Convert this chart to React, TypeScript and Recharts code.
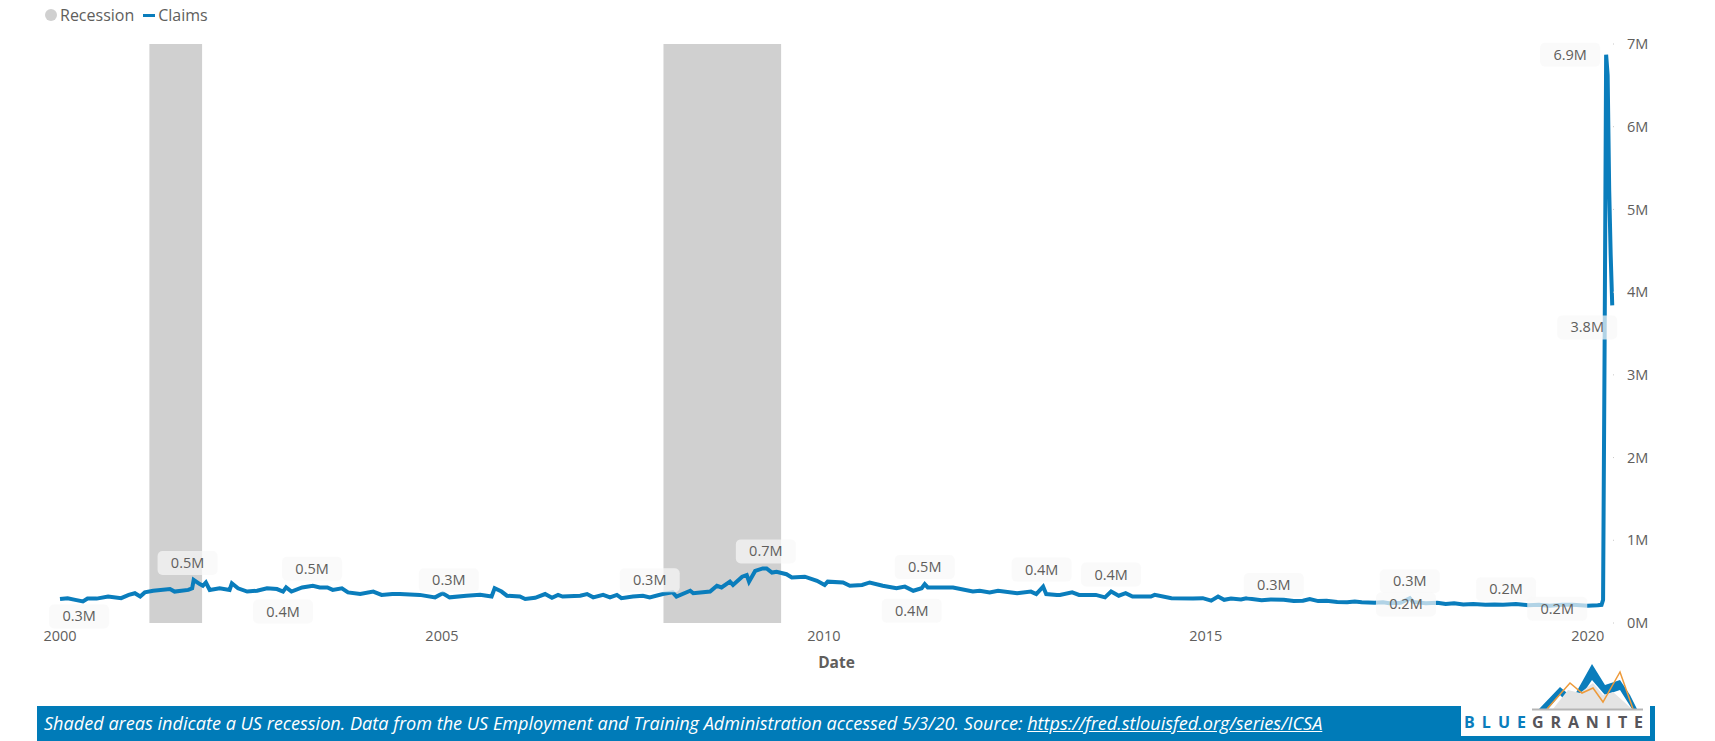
import {
  ComposedChart,
  Line,
  XAxis,
  YAxis,
  Legend,
  ReferenceArea,
  ReferenceDot,
} from "recharts";

const years = [
  2000.0, 2000.1, 2000.2, 2000.3, 2000.36, 2000.48, 2000.63, 2000.8, 2000.9, 2000.98,
  2001.05, 2001.11, 2001.22, 2001.44, 2001.5, 2001.68, 2001.73, 2001.75, 2001.83, 2001.87,
  2001.91, 2001.96, 2002.09, 2002.22, 2002.25, 2002.33, 2002.45, 2002.58, 2002.71, 2002.84,
  2002.92, 2002.96, 2003.03, 2003.17, 2003.31, 2003.4, 2003.5, 2003.57, 2003.69, 2003.77,
  2003.93, 2004.1, 2004.21, 2004.35, 2004.45, 2004.71, 2004.91, 2005.01, 2005.1, 2005.32,
  2005.5, 2005.65, 2005.69, 2005.78, 2005.85, 2006.02, 2006.09, 2006.22, 2006.35, 2006.44,
  2006.52, 2006.58, 2006.81, 2006.9, 2006.98, 2007.11, 2007.2, 2007.29, 2007.35, 2007.5,
  2007.63, 2007.72, 2007.89, 2008.02, 2008.07, 2008.25, 2008.29, 2008.51, 2008.6, 2008.66,
  2008.77, 2008.81, 2008.93, 2008.99, 2009.02, 2009.1, 2009.2, 2009.25, 2009.32, 2009.38,
  2009.51, 2009.58, 2009.75, 2009.91, 2010.01, 2010.05, 2010.25, 2010.34, 2010.5, 2010.6,
  2010.77, 2010.95, 2011.06, 2011.17, 2011.28, 2011.32, 2011.36, 2011.69, 2011.95, 2012.04,
  2012.17, 2012.28, 2012.53, 2012.71, 2012.78, 2012.87, 2012.91, 2013.05, 2013.09, 2013.25,
  2013.34, 2013.56, 2013.68, 2013.76, 2013.86, 2013.95, 2014.04, 2014.28, 2014.33, 2014.55,
  2014.83, 2014.96, 2015.07, 2015.16, 2015.24, 2015.33, 2015.46, 2015.53,
  2015.73, 2015.85, 2016.02, 2016.15, 2016.27, 2016.36, 2016.47, 2016.58, 2016.72, 2016.85,
  2016.95, 2017.04, 2017.21, 2017.32, 2017.4, 2017.55, 2017.67, 2017.71, 2017.88, 2018.03,
  2018.14, 2018.25, 2018.37, 2018.5, 2018.66, 2018.78, 2018.89, 2019.06, 2019.22, 2019.36,
  2019.5, 2019.66, 2019.8, 2020.0, 2020.13, 2020.18,
  2020.2, 2020.22, 2020.24, 2020.26, 2020.28, 2020.3, 2020.32,
];

const claims = [
  0.29, 0.3, 0.28, 0.26, 0.295, 0.295, 0.32, 0.3, 0.34, 0.36,
  0.32, 0.37, 0.39, 0.41, 0.38, 0.4, 0.42, 0.52, 0.47, 0.45,
  0.49, 0.4, 0.42, 0.4, 0.48, 0.42, 0.38, 0.39, 0.42, 0.41,
  0.38, 0.43, 0.38, 0.43, 0.45, 0.43, 0.43, 0.4, 0.42, 0.37,
  0.35, 0.38, 0.34, 0.35, 0.35, 0.34, 0.31, 0.36, 0.31, 0.33,
  0.34, 0.32, 0.42, 0.38, 0.33, 0.32, 0.29, 0.305, 0.35, 0.305,
  0.34, 0.32, 0.33, 0.35, 0.31, 0.34, 0.31, 0.34, 0.3, 0.32,
  0.33, 0.31, 0.35, 0.37, 0.32, 0.39, 0.36, 0.38, 0.45, 0.43,
  0.5, 0.46, 0.56, 0.58, 0.5, 0.63, 0.66, 0.66, 0.61, 0.62,
  0.59, 0.55, 0.56, 0.51, 0.46, 0.5, 0.49, 0.45, 0.46, 0.49,
  0.45, 0.42, 0.44, 0.39, 0.42, 0.47, 0.43, 0.43, 0.38, 0.39,
  0.37, 0.39, 0.36, 0.38, 0.35, 0.44, 0.35, 0.34, 0.34, 0.37,
  0.34, 0.34, 0.31, 0.38, 0.33, 0.36, 0.32, 0.32, 0.34, 0.3,
  0.295, 0.3, 0.27, 0.32, 0.28, 0.295, 0.285, 0.3,
  0.275, 0.285, 0.28, 0.265, 0.27, 0.29, 0.265, 0.27, 0.255, 0.25,
  0.26, 0.25, 0.245, 0.25, 0.24, 0.245, 0.3, 0.255, 0.24, 0.245,
  0.23, 0.24, 0.225, 0.23, 0.22, 0.225, 0.22, 0.23, 0.215, 0.22,
  0.21, 0.22, 0.22, 0.21, 0.215, 0.22,
  0.28, 3.31, 6.87, 6.62, 5.24, 4.44, 3.84,
];

const recessionStarts = [2001.17, 2007.9];
const recessionEnds = [2001.86, 2009.44];

const xTicks = [2000, 2005, 2010, 2015, 2020];
const yTicks = [0, 1, 2, 3, 4, 5, 6, 7];

const labelYears = [
  2000.25, 2001.67, 2002.92, 2003.3, 2005.09, 2007.72, 2009.24, 2011.32, 2011.15,
  2012.85, 2013.76, 2015.89, 2017.67, 2017.62, 2018.93, 2019.6, 2020.32, 2020.24,
];
const labelValues = [
  0.26, 0.52, 0.38, 0.45, 0.31, 0.31, 0.66, 0.47, 0.39,
  0.44, 0.38, 0.29, 0.3, 0.26, 0.24, 0.21, 3.84, 6.87,
];
const labelTexts = [
  "0.3M", "0.5M", "0.4M", "0.5M", "0.3M", "0.3M", "0.7M", "0.5M", "0.4M",
  "0.4M", "0.4M", "0.3M", "0.3M", "0.2M", "0.2M", "0.2M", "3.8M", "6.9M",
];
const labelPlaces = [
  "close", "above", "below", "above", "above", "above", "above", "above", "below",
  "above", "above", "low", "above", "near", "low", "near", "lowerLeft", "left",
];

const offsets = {
  above: [0, -17],
  low: [0, -14],
  below: [0, 20],
  close: [0, 15],
  near: [0, 3],
  left: [-36, 0],
  lowerLeft: [-25, 22],
};

const FONT = "'Open Sans', sans-serif";
const TEXT = "#605e5c";
const BLUE = "#0a7dbc";

const data = years.map((year, i) => ({ year, claims: claims[i] }));

const DataLabel = ({ cx, cy, text, place }: any) => {
  const [dx, dy] = offsets[place];
  const x = cx + dx;
  const y = cy + dy;
  return (
    <g>
      <rect x={x - 30} y={y - 12} width={60} height={24} rx={5} fill="#f8f8f8" fillOpacity={0.7} />
      <text x={x} y={y + 5} textAnchor="middle" fontFamily={FONT} fontSize={14.5} fill={TEXT}>
        {text}
      </text>
    </g>
  );
};

const ChartLegend = () => (
  <div style={{ display: "flex", alignItems: "center", fontFamily: FONT, fontSize: 16, color: TEXT }}>
    <span style={{ width: 12, height: 12, borderRadius: 6, background: "#d0d0d0", marginRight: 3 }} />
    <span style={{ marginRight: 9 }}>Recession</span>
    <span style={{ width: 12, height: 3, background: BLUE, marginRight: 3 }} />
    <span>Claims</span>
  </div>
);

const Logo = () => (
  <svg width={194} height={79} style={{ position: "absolute", left: 1461, top: 662 }} viewBox="1461 662 194 79">
    <rect x={1461} y={706} width={189} height={30} fill="#fff" />
    <polygon points="1539,709 1560,687 1573,698 1592,664 1605,685 1620,680 1630,695 1637,709" fill={BLUE} />
    <polygon points="1548,709 1560,695 1573,708 1592,680 1605,695 1620,690 1632,709" fill="#fff" />
    <polygon points="1553,709 1568,690 1580,693 1593,683 1603,695 1613,692 1632,709" fill="#e4e4e4" />
    <polyline points="1547,709 1570,683 1582,693 1593,688 1603,702 1620,672 1633,709" fill="none" stroke="#ee9a3a" strokeWidth={1.5} />
    <line x1={1532} y1={709.5} x2={1643} y2={709.5} stroke="#b5b5b5" strokeWidth={2} />
    <text x={1464} y={728} textLength={62} fontFamily={FONT} fontWeight={700} fontSize={16} fill={BLUE}>BLUE</text>
    <text x={1532} y={728} textLength={111} fontFamily={FONT} fontWeight={700} fontSize={16} fill="#57555a">GRANITE</text>
  </svg>
);

export default function App() {
  return (
    <div style={{ position: "absolute", left: 0, top: 0, width: 1715, height: 741, overflow: "hidden", background: "#fff" }}>
      <ComposedChart
        width={1715}
        height={700}
        data={data}
        margin={{ top: 22, right: 62, bottom: 47, left: 60 }}
      >
        <Legend
          content={<ChartLegend />}
          height={0}
          verticalAlign="top"
          align="left"
          wrapperStyle={{ left: 45, top: 4 }}
        />
        {recessionStarts.map((start, i) => (
          <ReferenceArea
            key={start}
            x1={start}
            x2={recessionEnds[i]}
            y1={0}
            y2={7}
            fill="#d0d0d0"
            fillOpacity={1}
            stroke="none"
          />
        ))}
        <XAxis
          type="number"
          dataKey="year"
          domain={[2000, 2020.33]}
          ticks={xTicks}
          axisLine={false}
          tickLine={false}
          height={30}
          tick={{ fontFamily: FONT, fontSize: 14.5, fill: TEXT }}
          label={{
            value: "Date",
            position: "insideBottom",
            offset: -15,
            fontFamily: FONT,
            fontSize: 15.5,
            fontWeight: 700,
            fill: TEXT,
          }}
        />
        <YAxis
          orientation="right"
          domain={[0, 7]}
          ticks={yTicks}
          tickFormatter={(v) => `${v}M`}
          axisLine={false}
          tickLine={{ stroke: "#c8c8c8" }}
          tickSize={1}
          width={40}
          tickMargin={13}
          tick={{ fontFamily: FONT, fontSize: 14.5, fill: TEXT }}
        />
        <Line
          dataKey="claims"
          stroke={BLUE}
          strokeWidth={4}
          dot={false}
          isAnimationActive={false}
          legendType="none"
        />
        {labelTexts.map((text, i) => (
          <ReferenceDot
            key={i}
            x={labelYears[i]}
            y={labelValues[i]}
            isFront
            ifOverflow="visible"
            shape={(props: any) => <DataLabel {...props} text={text} place={labelPlaces[i]} />}
          />
        ))}
      </ComposedChart>
      <div
        style={{
          position: "absolute",
          left: 37,
          top: 706,
          width: 1618,
          height: 35,
          background: "#007bb8",
          color: "#fff",
          fontFamily: FONT,
          fontStyle: "italic",
          fontSize: 18.1,
          lineHeight: "35px",
          paddingLeft: 7,
          boxSizing: "border-box",
          whiteSpace: "nowrap",
        }}
      >
        Shaded areas indicate a US recession. Data from the US Employment and Training Administration accessed 5/3/20. Source:{" "}
        <span style={{ textDecoration: "underline" }}>https://fred.stlouisfed.org/series/ICSA</span>
      </div>
      <Logo />
    </div>
  );
}
